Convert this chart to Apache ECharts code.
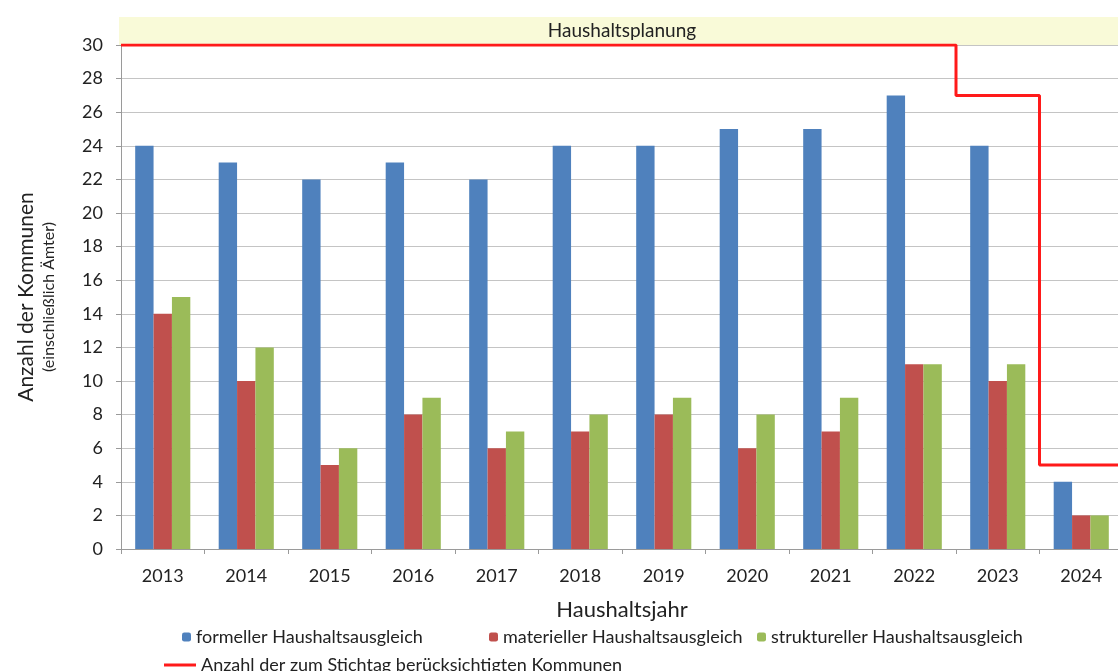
<!DOCTYPE html>
<html>
<head>
<meta charset="utf-8">
<script src="https://cdn.jsdelivr.net/npm/echarts@6/dist/echarts.min.js"></script>
<style>
html,body{margin:0;padding:0;background:#fff;}
#main{width:1118px;height:671px;}
</style>
</head>
<body>
<div id="main"></div>
<script>
var years = ['2013','2014','2015','2016','2017','2018','2019','2020','2021','2022','2023','2024'];
var formell = [24,23,22,23,22,24,24,25,25,27,24,4];
var materiell = [14,10,5,8,6,7,8,6,7,11,10,2];
var strukturell = [15,12,6,9,7,8,9,8,9,11,11,2];
// Stufen der berücksichtigten Kommunen: [Kategorie-Grenze, Anzahl]
var stichtag = [[0,30],[10,30],[10,27],[11,27],[11,5],[12,5]];

var font = 'Lato';
var legText = {fontSize: 18, color: '#222', fontFamily: font};
var el = echarts.init(document.getElementById('main'));
var elData = {
    animation: false,
    textStyle: {fontFamily: font},
    grid: {left: 121, width: 1002, top: 45, bottom: 122, containLabel: false, outerBoundsMode: 'none'},
    graphic: [
        {
            type: 'rect',
            shape: {x: 119, y: 17, width: 999, height: 28},
            style: {fill: '#f9fad8'},
            z: 0
        },
        {
            type: 'text',
            x: 622, y: 31,
            style: {text: 'Haushaltsplanung', fill: '#222', font: '19px Lato', align: 'center', verticalAlign: 'middle'}
        }
    ],
    legend: [
        {
            data: ['formeller Haushaltsausgleich'],
            left: 177, top: 623,
            itemWidth: 9, itemHeight: 9,
            textStyle: legText
        },
        {
            data: ['materieller Haushaltsausgleich'],
            left: 484, top: 623,
            itemWidth: 9, itemHeight: 9,
            textStyle: legText
        },
        {
            data: ['struktureller Haushaltsausgleich'],
            left: 752, top: 623,
            itemWidth: 9, itemHeight: 9,
            textStyle: legText
        },
        {
            data: [{name: 'Anzahl der zum Stichtag berücksichtigten Kommunen', icon: 'rect'}],
            left: 159, top: 651,
            itemWidth: 32, itemHeight: 3,
            textStyle: legText
        }
    ],
    xAxis: [
        {
            type: 'category',
            data: years,
            name: 'Haushaltsjahr',
            nameLocation: 'middle',
            nameGap: 50,
            nameTextStyle: {fontSize: 22, color: '#222'},
            axisLine: {lineStyle: {color: '#9a9a9a'}},
            axisTick: {show: true, length: 5, lineStyle: {color: '#9a9a9a'}},
            axisLabel: {fontSize: 18, color: '#222', margin: 18}
        },
        {
            type: 'value',
            min: 0, max: 12,
            show: false
        }
    ],
    yAxis: {
        type: 'value',
        min: 0, max: 30, interval: 2,
        name: '{a|Anzahl der Kommunen}\n{b|(einschließlich Ämter)}',
        nameLocation: 'middle',
        nameRotate: 90,
        nameGap: 62,
        nameTextStyle: {
            rich: {
                a: {fontSize: 21, color: '#222', fontFamily: font, lineHeight: 26},
                b: {fontSize: 16, color: '#222', fontFamily: font, lineHeight: 20}
            }
        },
        axisLine: {show: true, lineStyle: {color: '#9a9a9a'}},
        axisTick: {show: true, length: 5, lineStyle: {color: '#9a9a9a'}},
        axisLabel: {fontSize: 18, color: '#222', margin: 18},
        splitLine: {lineStyle: {color: '#c4c4c4'}}
    },
    series: [
        {
            name: 'formeller Haushaltsausgleich',
            type: 'bar',
            data: formell,
            barGap: '0%',
            barCategoryGap: '34%',
            itemStyle: {color: '#4f81bd'}
        },
        {
            name: 'materieller Haushaltsausgleich',
            type: 'bar',
            data: materiell,
            itemStyle: {color: '#c0504d'}
        },
        {
            name: 'struktureller Haushaltsausgleich',
            type: 'bar',
            data: strukturell,
            itemStyle: {color: '#9bbb59'}
        },
        {
            name: 'Anzahl der zum Stichtag berücksichtigten Kommunen',
            type: 'line',
            xAxisIndex: 1,
            data: stichtag,
            symbol: 'none',
            z: 5,
            lineStyle: {color: '#ff1a1a', width: 3},
            itemStyle: {color: '#ff1a1a'}
        }
    ]
};
el.setOption(elData);
</script>
</body>
</html>
